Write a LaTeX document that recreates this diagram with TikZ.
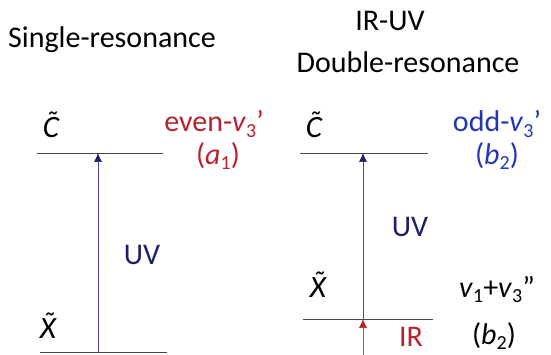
\documentclass[tikz,border=0pt]{standalone}
\usepackage{fontspec}
\setmainfont{Carlito}
\usetikzlibrary{arrows.meta,positioning}
\definecolor{LevelGrey}{HTML}{4A4A4A}
\definecolor{StateRed}{HTML}{B8222C}
\definecolor{StateBlue}{HTML}{2236B4}
\definecolor{BeamNavy}{HTML}{1E1E6A}
\definecolor{BeamLine}{HTML}{4848B0}
\definecolor{IrLine}{HTML}{E8405A}
\newcommand{\lowidx}[1]{\raisebox{-0.35ex}{\fontsize{20}{20}\selectfont #1}}
\newcommand{\vib}[1]{\textit{v}\lowidx{#1}}
\newcommand{\tildestate}[1]{\accent"02DC #1}

\begin{document}
\begin{tikzpicture}[x=1pt,y=-1pt,
    level/.style={draw=LevelGrey,line width=0.8pt},
    statelbl/.style={font=\fontsize{31}{32}\selectfont\itshape,inner sep=0pt},
    heading/.style={font=\fontsize{30}{32}\selectfont,inner sep=0pt},
    symlbl/.style={font=\fontsize{30}{32}\selectfont,inner sep=0pt},
    beam/.style={BeamLine,line width=0.6pt,-{Latex[length=9pt,width=8pt]}}
  ]
    \useasboundingbox (0,0) rectangle (551,355);
    % titles
    \node[heading] (single) at (112,40) {Single-resonance};
    \node[heading] (iruv) at (390,21) {IR-UV};
    \node[heading] (double) at (408,62) {Double-resonance};
    % single resonance levels
    \coordinate (cLa) at (37,153);
    \coordinate (cLb) at (163,153);
    \coordinate (xLa) at (40,352);
    \coordinate (xLb) at (167,352);
    \coordinate (cLup) at (98,153);
    \coordinate (xLlo) at (98,352);
    \draw[level] (cLa) -- (cLb);
    \draw[level] (xLa) -- (xLb);
    \draw[beam,-{Latex[length=9pt,width=8pt,color=BeamNavy]}] (xLlo) -- (cLup);
    \node[statelbl] (ctL) at (51,125) {\tildestate{C}};
    \node[statelbl] (xtL) at (48,326) {\tildestate{X}};
    \node[symlbl,BeamNavy] (uvL) at (142,255) {UV};
    \node[symlbl,StateRed] (evenL) at (214,124) {even-\vib{3}’};
    \node[symlbl,StateRed] (symL) at (218,156) {(\textit{a}\lowidx{1})};
    % double resonance levels
    \coordinate (cRa) at (300,153);
    \coordinate (cRb) at (428,153);
    \coordinate (xRa) at (303,319);
    \coordinate (xRb) at (433,319);
    \coordinate (cRup) at (363,153);
    \coordinate (xRmid) at (363,319);
    \coordinate (irfoot) at (363,356);
    \draw[level] (cRa) -- (cRb);
    \draw[level] (xRa) -- (xRb);
    \draw[beam,-{Latex[length=9pt,width=8pt,color=BeamNavy]}] (xRmid) -- (cRup);
    \draw[IrLine,line width=0.6pt,-{Latex[length=9pt,width=8pt,color=StateRed]}] (irfoot) -- (xRmid);
    \node[statelbl] (ctR) at (314,125) {\tildestate{C}};
    \node[statelbl] (xtR) at (318,285) {\tildestate{X}};
    \node[symlbl,BeamNavy] (uvR) at (410,227) {UV};
    \node[symlbl,StateRed] (irR) at (411,337) {IR};
    \node[symlbl,StateBlue] (oddR) at (497,124) {odd-\vib{3}’};
    \node[symlbl,StateBlue] (symR) at (497,156) {(\textit{b}\lowidx{2})};
    \node[symlbl] (combR) at (497,289) {\vib{1}+\vib{3}”};
    \node[symlbl] (symX) at (494,336) {(\textit{b}\lowidx{2})};
  \end{tikzpicture}
\end{document}
